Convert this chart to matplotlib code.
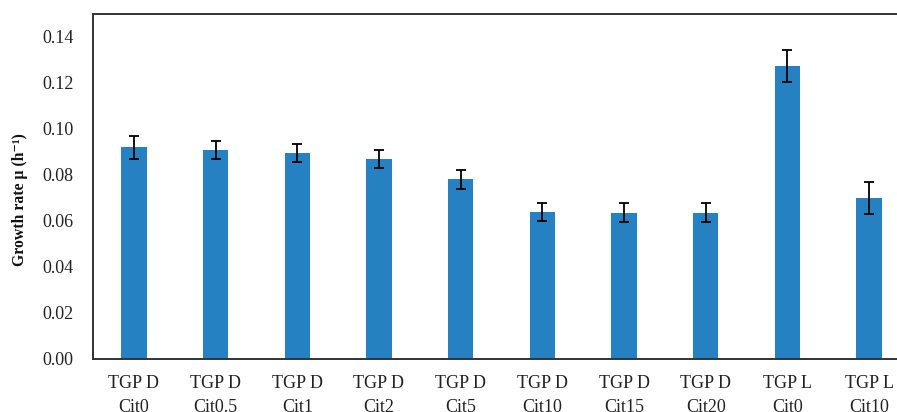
import matplotlib
matplotlib.use("Agg")
import matplotlib.pyplot as plt
import numpy as np

categories = ["TGP D\nCit0", "TGP D\nCit0.5", "TGP D\nCit1", "TGP D\nCit2", "TGP D\nCit5",
              "TGP D\nCit10", "TGP D\nCit15", "TGP D\nCit20", "TGP L\nCit0", "TGP L\nCit10"]
growth_rate = [0.0920, 0.0907, 0.0896, 0.0870, 0.0780, 0.0638, 0.0635, 0.0635, 0.1275, 0.0697]
errors = [0.0050, 0.0040, 0.0040, 0.0040, 0.0040, 0.0040, 0.0040, 0.0040, 0.0070, 0.0070]
yticks = [0.00, 0.02, 0.04, 0.06, 0.08, 0.10, 0.12, 0.14]

serif = ["Liberation Serif", "DejaVu Serif"]
plt.rcParams['font.family'] = serif

fig = plt.figure(figsize=(8.97, 4.12), dpi=100)
ax = fig.add_axes([93/897, 1-358.5/412, 817/897, (358.5-14)/412])

x = np.arange(len(categories))
ax.bar(x, growth_rate, width=0.31, color="#2681c2", zorder=2)
ax.errorbar(x, growth_rate, yerr=errors, fmt="none", ecolor="black",
            elinewidth=1.3, capsize=3.5, capthick=1.3, zorder=3)

ax.set_xlim(-0.5, len(categories) - 0.5)
ax.set_ylim(0, 0.15)
ax.set_yticks(yticks)
ax.set_yticklabels([f"{v:.2f}" for v in yticks], fontsize=13, color="#222222")
ax.set_xticks(x)
ax.set_xticklabels(categories, fontsize=13, linespacing=1.55, color="#222222")
ax.tick_params(axis="both", length=0)
ax.tick_params(axis="x", pad=12)
ax.tick_params(axis="y", pad=14)

for s in ax.spines.values():
    s.set_color("#333333")
    s.set_linewidth(1.4)

fig.text(20/897, 1-200/412, "Growth rate μ (h⁻¹)", rotation=90, ha="center", va="center",
         fontsize=11.3, fontweight="bold", family=serif, color="#111111")

fig.savefig("out.png", dpi=100)
